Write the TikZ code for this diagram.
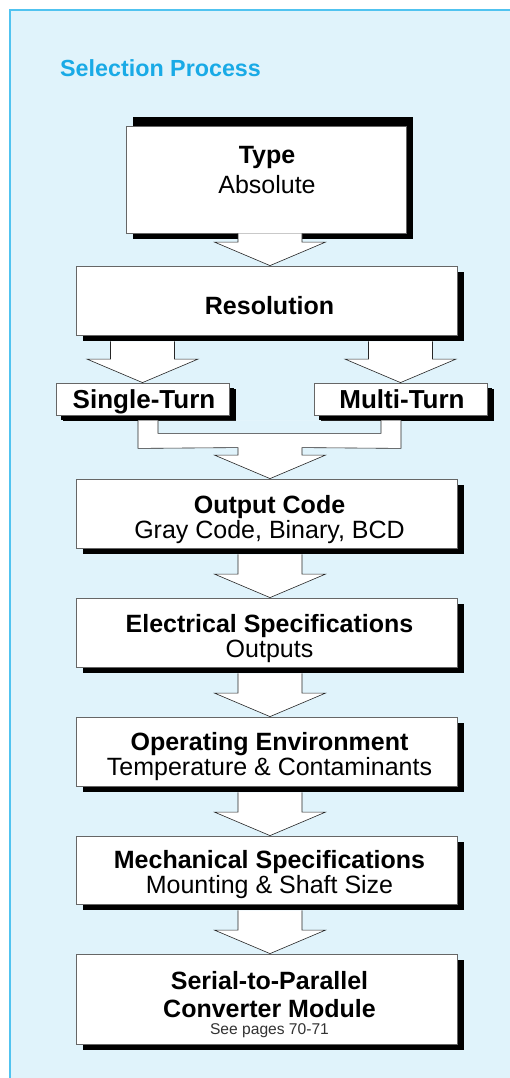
\documentclass[tikz,border=0pt]{standalone}
\usepackage{fontspec}
\setmainfont{Liberation Sans}
\usetikzlibrary{calc,shadows}

\definecolor{panelfill}{RGB}{224,243,251}
\definecolor{panelline}{RGB}{80,195,240}
\definecolor{titleblue}{RGB}{25,170,230}

% hollow block arrow from the bottom of #1 to the top of #2
\newcommand{\blockarrow}[4]{%
  \coordinate (tip) at ($(#2.north)+(#3,0)$);
  \coordinate (top) at ($(#1.south)+(0,#4)$);
  \filldraw[arrowfill] ($(tip |- top)+(-32,0)$) -- ($(tip)+(-32,-23.5)$) -- ++(-23.5,0) -- (tip)
    -- ++(55.5,-23.5) -- ++(-23.5,0) -- ($(tip |- top)+(32,0)$);
}

\begin{document}
\begin{tikzpicture}[x=1pt,y=-1pt,
  box/.style={draw=black!60,line width=0.8pt,fill=white,inner sep=0pt,
    minimum width=381pt,minimum height=69pt,
    drop shadow={shadow xshift=7pt,shadow yshift=-6pt,fill=black,opacity=1}},
  smallbox/.style={box,minimum width=173pt,minimum height=32pt,
    drop shadow={shadow xshift=5pt,shadow yshift=-5pt,fill=black,opacity=1}},
  boxtext/.style={align=center,inner sep=0pt,font=\fontsize{25}{25}\selectfont},
  arrowfill/.style={draw=black!85,line width=0.6pt,fill=white},
  title/.style={anchor=base west,inner sep=0pt,text=titleblue,
    font=\fontsize{23.3}{23.3}\selectfont\bfseries}]
  \useasboundingbox (0,0) rectangle (510,1078);
  \fill[panelfill] (10,10) rectangle (510,1078);
  \draw[panelline,line width=1.5pt] (10,1078) |- (510,10);

  \node[title] (heading) at (60,77) {Selection Process};

  % boxes
  \node[box,minimum width=280pt,minimum height=107pt,
    drop shadow={shadow xshift=7pt,shadow yshift=8.5pt,fill=black,opacity=1}] (type) at (266,179.5) {};
  \node[box] (res) at (266.5,300.5) {};
  \node[smallbox] (single) at (142.5,399) {};
  \node[smallbox] (multi) at (400.5,399) {};
  \node[box] (output) at (266.5,513.5) {};
  \node[box] (elec) at (266.5,632.5) {};
  \node[box] (oper) at (266.5,751.5) {};
  \node[box,minimum height=68pt] (mech) at (266.5,870) {};
  \node[box,minimum height=90pt] (serial) at (266.5,999) {};

  % texts
  \node[boxtext] (typetext) at ($(type.center)+(1,-9)$) {\textbf{Type}\\[5pt]Absolute};
  \node[boxtext] (restext) at ($(res.center)+(3,5)$) {\textbf{Resolution}};
  \node[boxtext,anchor=base,font=\fontsize{26}{26}\selectfont] (singletext) at ($(single.center)+(1.5,9)$) {\textbf{Single-Turn}};
  \node[boxtext,anchor=base,font=\fontsize{26}{26}\selectfont] (multitext) at ($(multi.center)+(1.5,9)$) {\textbf{Multi-Turn}};
  \node[boxtext] (outputtext) at ($(output.center)+(3,6)$) {\textbf{Output Code}\\Gray Code, Binary, BCD};
  \node[boxtext] (electext) at ($(elec.center)+(3,6)$) {\textbf{Electrical Specifications}\\Outputs};
  \node[boxtext] (opertext) at ($(oper.center)+(3,5)$) {\textbf{Operating Environment}\\Temperature \& Contaminants};
  \node[boxtext] (mechtext) at ($(mech.center)+(3,5)$) {\textbf{Mechanical Specifications}\\Mounting \& Shaft Size};
  \node[boxtext] (serialtext) at ($(serial.center)+(3,5.5)$) {\textbf{Serial-to-Parallel}\\[3pt]\textbf{Converter Module}\\[-8pt]
    {\fontsize{15.6}{17}\selectfont\color{black!80}See pages 70-71}};

  \blockarrow{type}{res}{3.5}{0}
  \blockarrow{res}{single}{0}{6}
  \blockarrow{res}{multi}{0}{6}

  % both turn variants join into one arrow
  \coordinate (tip) at ($(output.north)+(3.5,0)$);
  \filldraw[arrowfill,even odd rule]
    ($(single.south)+(-4.5,5)$) -- ($(single.south)+(-4.5,33)$) -- ($(tip)+(-32,-31)$) -- ($(tip)+(-32,-23.5)$)
    -- ++(-23.5,0) -- (tip) -- ++(55.5,-23.5) -- ++(-23.5,0) -- ($(tip)+(32,-31)$)
    -- ($(multi.south)+(0.5,33)$) -- ($(multi.south)+(0.5,5)$)
    ($(multi.south)+(-19.5,5)$) -- ($(multi.south)+(-19.5,18)$) -- ($(single.south)+(15.5,18)$) -- ($(single.south)+(15.5,5)$);

  \blockarrow{output}{elec}{3.5}{6}
  \blockarrow{elec}{oper}{3.5}{6}
  \blockarrow{oper}{mech}{3.5}{6}
  \blockarrow{mech}{serial}{3.5}{6}
\end{tikzpicture}
\end{document}
